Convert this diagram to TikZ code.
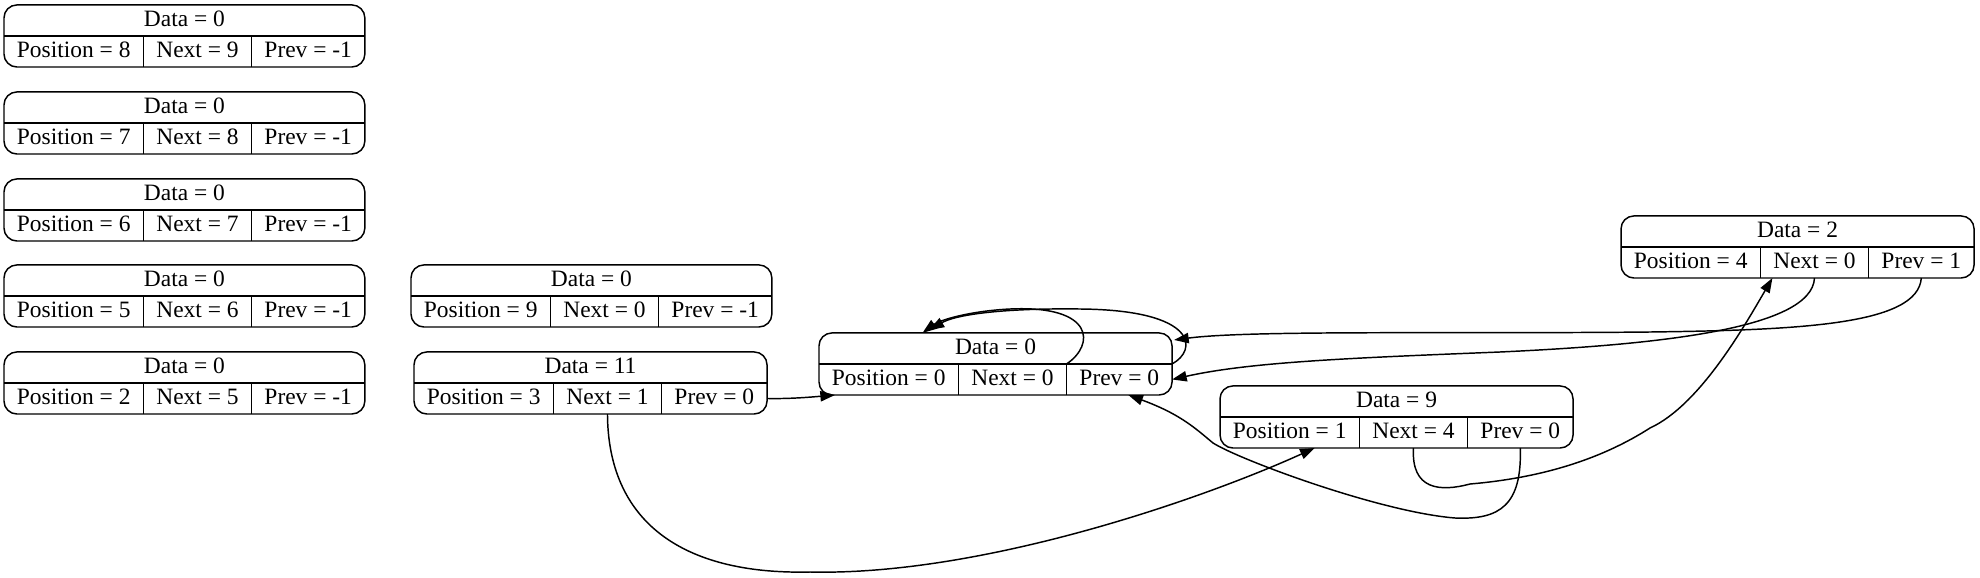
\documentclass[tikz,border=0pt]{standalone}
\usepackage{fontspec}
\setmainfont{Liberation Serif}
\usetikzlibrary{positioning,calc,arrows.meta}

\tikzset{
  cell/.style={inner xsep=7.5pt, inner ysep=0pt, outer sep=0pt, minimum height=18pt,
    text height=9.5pt, text depth=3pt, font=\fontsize{13.6}{16}\selectfont},
  link/.style={-{Triangle[length=8.5pt,width=6pt]}, line width=0.85pt},
}

% #1 name, #2 lower left corner, #3 data, #4 position, #5 next, #6 prev
\newcommand\listnode[6]{%
  \node[cell, anchor=south west] (#1pos) at #2 {Position = #4};
  \node[cell, right=0pt of #1pos] (#1next) {Next = #5};
  \node[cell, right=0pt of #1next] (#1prev) {Prev = #6};
  \coordinate (#1top) at ($(#1pos.north west)!.5!(#1prev.north east)$);
  \node[cell, above=0pt of #1top] (#1) {Data = #3};
  \draw[line width=0.85pt, rounded corners=7.5pt] (#1pos.south west) rectangle (#1prev.north east |- #1.north);
  \draw[line width=0.85pt] (#1pos.north west) -- (#1prev.north east);
  \draw[line width=0.85pt] (#1pos.north east) -- (#1pos.south east);
  \draw[line width=0.85pt] (#1next.north east) -- (#1next.south east);
}

\begin{document}
\begin{tikzpicture}[x=0.58pt, y=-0.58pt]
\useasboundingbox (0,0) rectangle (1980,577);

\listnode{r8}{(4,67)}{0}{8}{9}{-1}
\listnode{r7}{(4,154)}{0}{7}{8}{-1}
\listnode{r6}{(4,241)}{0}{6}{7}{-1}
\listnode{r5}{(4,327)}{0}{5}{6}{-1}
\listnode{r2}{(4,414)}{0}{2}{5}{-1}
\listnode{r9}{(411,327)}{0}{9}{0}{-1}
\listnode{r3}{(414,414)}{11}{3}{1}{0}
\listnode{r0}{(819,395)}{0}{0}{0}{0}
\listnode{r1}{(1220,448)}{9}{1}{4}{0}
\listnode{r4}{(1621,278)}{2}{4}{0}{1}

% next / prev pointers
\draw[link] (r3next.south) .. controls (608,520) and (680,575) .. (810,572)
  .. controls (980,576) and (1200,500) .. ($(r1pos.south)+(25,0)$);
\draw[link] (r3prev.east) .. controls (790,399) and (812,397) .. ($(r0pos.south west)+(16,0)$);
\draw[link] (r0next.north east) .. controls (1095,345) and (1095,305) .. (1010,309)
  .. controls (970,311) and (940,320) .. ($(r0.north)+(-73,0)$);
\draw[link] (r0prev.north east) .. controls (1198,350) and (1198,310) .. (1080,309)
  .. controls (1000,308) and (955,315) .. ($(r0.north)+(-66,-3)$);
\draw[link] (r1next.south) .. controls (1411,490) and (1440,492) .. (1470,484)
  .. controls (1540,478) and (1600,460) .. (1650,428)
  .. controls (1700,405) and (1745,325) .. ($(r4pos.south east)+(12,0)$);
\draw[link] (r1prev.south) .. controls (1522,505) and (1500,520) .. (1455,518)
  .. controls (1380,512) and (1240,460) .. (1213,443)
  .. controls (1195,428) and (1180,414) .. ($(r0prev.south)+(9,0)$);
\draw[link] (r4next.south) .. controls (1812,330) and (1650,345) .. (1500,352)
  .. controls (1350,358) and (1250,362) .. (r0prev.east);
\draw[link] (r4prev.south) .. controls (1918,325) and (1800,330) .. (1650,332)
  .. controls (1450,334) and (1250,330) .. ($(r0prev.north east)+(2,-24)$);
\end{tikzpicture}
\end{document}
